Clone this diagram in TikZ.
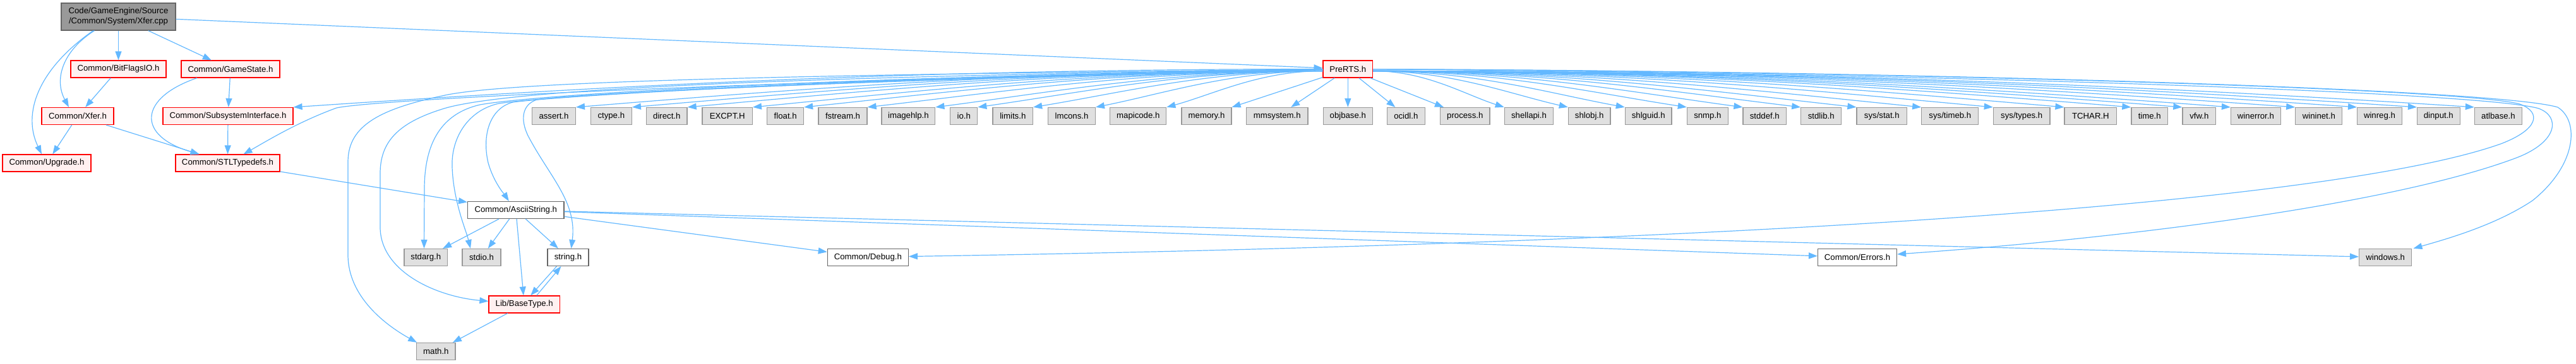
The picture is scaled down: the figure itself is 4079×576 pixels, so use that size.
\documentclass[tikz,border=0pt]{standalone}
\usepackage{fontspec}
\setmainfont{Liberation Sans}
\usetikzlibrary{arrows.meta}
\definecolor{edgec}{HTML}{63B8FF}
\definecolor{redfill}{HTML}{FFF0F0}
\definecolor{grayf}{HTML}{E0E0E0}
\definecolor{grayb}{HTML}{999999}
\definecolor{whiteb}{HTML}{666666}
\definecolor{rootf}{HTML}{999999}
\tikzset{
  box/.style={draw, line width=1.2pt, minimum height=27pt, inner sep=0pt,
    font=\fontsize{13.2}{16}\selectfont, text=black},
  rbox/.style={box, draw=red, fill=redfill},
  gbox/.style={box, draw=grayb, fill=grayf},
  wbox/.style={box, draw=whiteb, fill=white},
  edge/.style={draw=edgec, line width=1.2pt, -{Triangle[length=14pt,width=10pt]}},
}
\begin{document}
\begin{tikzpicture}[x=1pt,y=-1pt]
\useasboundingbox (0,0) rectangle (4079,576);
% nodes
\node[box, draw=whiteb, fill=rootf, minimum width=181pt, minimum height=43pt, align=center] (root) at (187.5,26.5) {Code/GameEngine/Source\\/Common/System/Xfer.cpp};
\node[rbox, minimum width=151pt] (bitflags) at (187.5,109.5) {Common/BitFlagsIO.h};
\node[rbox, minimum width=156pt] (gamestate) at (365,109.5) {Common/GameState.h};
\node[rbox, minimum width=78.6pt] (prerts) at (2134.3,109.5) {PreRTS.h};
\node[rbox, minimum width=114pt] (xferh) at (123,184) {Common/Xfer.h};
\node[rbox, minimum width=206pt] (subsys) at (361,184) {Common/SubsystemInterface.h};
\node[rbox, minimum width=140pt] (upgrade) at (74,258.5) {Common/Upgrade.h};
\node[rbox, minimum width=165pt] (stl) at (360.5,258.5) {Common/STLTypedefs.h};
\node[wbox, minimum width=152.4pt] (ascii) at (816.8,333) {Common/AsciiString.h};
\node[gbox, minimum width=68.6pt] (stdarg) at (674.3,408) {stdarg.h};
\node[gbox, minimum width=61pt] (stdio) at (762.5,408) {stdio.h};
\node[wbox, minimum width=65pt] (string) at (899.5,408) {string.h};
\node[wbox, minimum width=128pt] (debug) at (1374.3,408) {Common/Debug.h};
\node[wbox, minimum width=125pt] (errors) at (2941,408) {Common/Errors.h};
\node[gbox, minimum width=83.2pt] (windows) at (3777.2,408) {windows.h};
\node[rbox, minimum width=112.4pt] (basetype) at (830.2,482.5) {Lib/BaseType.h};
\node[gbox, minimum width=61.2pt] (math) at (690.4,557) {math.h};
% gray row
\foreach \n/\x/\w/\t in {assert/877/68.7/assert.h, ctype/967.8/65/ctype.h, direct/1055.8/64.5/direct.h,
  excpt/1151.7/79.3/EXCPT.H, float/1243.7/57.7/float.h, fstream/1334.5/77/fstream.h,
  imagehlp/1438.4/84.8/imagehlp.h, io/1526.2/43/io.h, limits/1603.8/63.5/limits.h,
  lmcons/1697/74.7/lmcons.h, mapicode/1802.3/88.9/mapicode.h, memory/1910.5/79/memory.h,
  mmsystem/2022.2/97.6/mmsystem.h, objbase/2134.3/78/objbase.h, ocidl/2226.3/59.9/ocidl.h,
  process/2319.8/78.5/process.h, shellapi/2421/77.5/shellapi.h, shlobj/2516.7/66.7/shlobj.h,
  shlguid/2610.2/73.7/shlguid.h, snmp/2703.9/65/snmp.h, stddef/2794.3/68.6/stddef.h,
  stdlib/2883.7/63.8/stdlib.h, tchar/3310.4/82.7/TCHAR.H, time/3403.7/57.6/time.h,
  vfw/3482.3/52.8/vfw.h, winerror/3571.9/78.8/winerror.h, wininet/3671.8/74.1/wininet.h,
  winreg/3767.9/70.6/winreg.h, dinput/3861.3/67.5/dinput.h, atlbase/3955.9/74.9/atlbase.h}
  \node[gbox, minimum width=\w pt] (\n) at (\x,184) {\t};
\node[gbox, minimum width=79.6pt] (sysstat) at (2979.8,184) {sys/stat.h};
\node[gbox, minimum width=90.1pt] (systimeb) at (3087.8,184) {sys/timeb.h};
\node[gbox, minimum width=89.7pt] (systypes) at (3201.2,184) {sys/types.h};
% edges from root
\draw[edge] (root) -- (bitflags);
\draw[edge] (root) -- (gamestate);
\draw[edge] (root) -- (prerts);
\draw[edge] ([xshift=-38pt]root.south) .. controls (100,80) and (85,125) .. ([xshift=-14pt]xferh.north);
\draw[edge] ([xshift=-40pt]root.south) .. controls (60,110) and (35,180) .. ([xshift=-8pt]upgrade.north);
% red level edges
\draw[edge] (bitflags) -- (xferh);
\draw[edge] (gamestate) -- (subsys);
\draw[edge] ([xshift=-53pt]gamestate.south) .. controls (220,155) and (215,215) .. ([xshift=-45pt]stl.north);
\draw[edge] (xferh) -- (upgrade);
\draw[edge] (xferh) -- (stl);
\draw[edge] (subsys) -- (stl);
\draw[edge] (stl) -- (ascii);
% AsciiString edges
\draw[edge] (ascii) -- (stdarg);
\draw[edge] (ascii) -- (stdio);
\draw[edge] (ascii) -- (basetype);
\draw[edge] (ascii) -- (string);
\draw[edge] (ascii) -- (debug);
\draw[edge] (ascii) -- (errors);
\draw[edge] (ascii) -- (windows);
\draw[edge] ([xshift=-18pt]string.south) -- ([xshift=10pt]basetype.north);
\draw[edge] ([xshift=19.5pt]basetype.north) -- ([xshift=-11pt]string.south);
\draw[edge] (basetype) -- (math);
% PreRTS fan
\foreach \t/\D in {assert/1184,ctype/1095,direct/1008,excpt/904,float/823,fstream/723,imagehlp/615,io/548,limits/460,lmcons/361,mapicode/249}
  \draw[edge] ([yshift=-3pt]prerts.west) .. controls +({-0.4*\D},0) and +({0.3*\D},{-(18.3+0.009*\D)}) .. (\t.north east);
\draw[edge] (prerts) -- (memory.north east);
\draw[edge] (prerts) -- ([xshift=22pt]mmsystem.north);
\draw[edge] (prerts) -- (objbase);
\draw[edge] (prerts) -- ([xshift=-17pt]ocidl.north);
\draw[edge] (prerts) -- ([xshift=6pt]process.north west);
\foreach \t/\D in {shellapi/209,shlobj/310,shlguid/400,snmp/498,stddef/586,stdlib/678,sysstat/766,systimeb/869,systypes/983,tchar/1095,time/1201,vfw/1282,winerror/1359,wininet/1461,winreg/1559,dinput/1654,atlbase/1745}
  \draw[edge] ([yshift=-3pt]prerts.east) .. controls +({0.4*\D},0) and +({-0.3*\D},{-(18.3+0.009*\D)}) .. (\t.north west);
\draw[edge] (prerts.west) .. controls +(-650,0) and +(489,-33) .. (subsys.north east);
\draw[edge] (prerts) .. controls (1200,128) and (600,157) .. (533,171) .. controls (470,194) and (420,225) .. ([xshift=25pt]stl.north);
\draw[edge] (prerts) .. controls (1300,118) and (800,128) .. (700,152) .. controls (590,175) and (551,205) .. (551,257) -- (551,404) .. controls (551,470) and (610,515) .. ([xshift=1pt]math.north west);
\draw[edge] (prerts) .. controls (1300,120) and (800,140) .. (700,173) .. controls (630,195) and (602,225) .. (602,275) -- (602,360) .. controls (602,430) and (690,470) .. ([yshift=5pt]basetype.west);
\draw[edge] (prerts) .. controls (1300,122) and (850,150) .. (760,166) .. controls (700,180) and (672,225) .. (672,300) -- ([xshift=-2.8pt]stdarg.north);
\draw[edge] (prerts) .. controls (1300,124) and (870,152) .. (790,164) .. controls (740,175) and (714,220) .. (716,265) .. controls (718,320) and (738,365) .. ([xshift=-17.5pt]stdio.north);
\draw[edge] (prerts) .. controls (1300,126) and (890,152) .. (812,162) .. controls (775,172) and (763,215) .. (773,258) .. controls (782,290) and (800,310) .. ([xshift=-11pt]ascii.north);
\draw[edge] (prerts) .. controls (1300,128) and (900,150) .. (850,158) .. controls (826,166) and (824,190) .. (836,215) .. controls (870,280) and (914,320) .. ([xshift=5pt]string.north);
% around the right
\draw[edge] (prerts) .. controls (3000,112) and (3950,140) .. (4050,170) .. controls (4085,192) and (4080,262) .. (4010,318) .. controls (3950,358) and (3870,380) .. ([xshift=2pt]windows.north east);
\draw[edge] (prerts) .. controls (3000,115) and (3930,145) .. (4020,172) .. controls (4055,185) and (4050,225) .. (3985,250) .. controls (3800,320) and (3400,375) .. ([yshift=5pt]errors.east);
\draw[edge] (prerts) .. controls (3000,113) and (3900,140) .. (3990,165) .. controls (4025,178) and (4020,205) .. (3960,228) .. controls (3700,320) and (2800,385) .. ([yshift=1.5pt]debug.east);
\end{tikzpicture}
\end{document}
